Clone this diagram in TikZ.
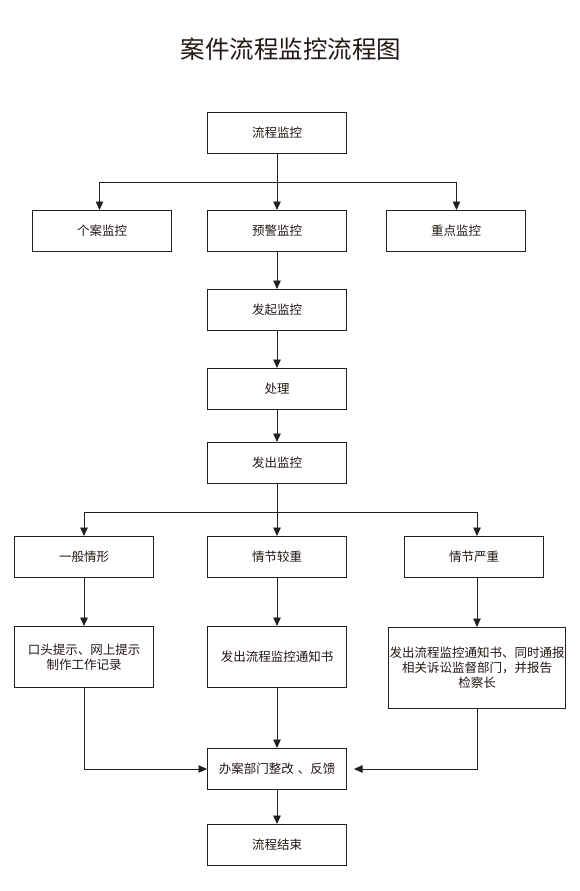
\documentclass[tikz,border=0pt]{standalone}
\usepackage{fontspec}
\newfontfamily\cjk{Noto Sans CJK SC}
\usetikzlibrary{arrows.meta}
\definecolor{lc}{HTML}{231F20}
\definecolor{tc}{HTML}{231815}
\tikzset{
  box/.style={draw=lc, line width=1pt, minimum width=139pt, minimum height=41pt,
    inner sep=0pt, align=center, text=tc, font=\cjk\fontsize{12.5}{15}\selectfont},
  arr/.style={draw=lc, line width=0.9pt, -{Triangle[length=8.5pt,width=7.5pt]}},
  ln/.style={draw=lc, line width=0.9pt}
}
\begin{document}
\begin{tikzpicture}[x=1pt,y=-1pt]
\useasboundingbox[fill=white] (0,0) rectangle (580,891);
\node[text=tc, font=\cjk\fontsize{24.5}{26}\selectfont] (title) at (291,49) {案件流程监控流程图};

\node[box] (A) at (277,133) {流程监控};
\node[box] (B1) at (102,231) {个案监控};
\node[box] (B2) at (277,231) {预警监控};
\node[box] (B3) at (456,231) {重点监控};
\node[box] (C) at (277,310) {发起监控};
\node[box] (D) at (277,389) {处理};
\node[box] (E) at (277,463) {发出监控};
\node[box] (F1) at (84,557) {一般情形};
\node[box] (F2) at (277,557) {情节较重};
\node[box] (F3) at (474,557) {情节严重};
\node[box, minimum height=61pt] (G1) at (84,657) {口头提示、网上提示\\制作工作记录};
\node[box, minimum height=61pt] (G2) at (277,657) {发出流程监控通知书};
\node[box, minimum width=177pt, minimum height=81pt] (G3) at (477,668) {发出流程监控通知书、同时通报\\相关诉讼监督部门，并报告\\检察长};
\node[box] (H) at (277,769) {办案部门整改\hspace{4pt}、反馈};
\node[box] (I) at (277,845) {流程结束};

\coordinate (j1) at (277,182.5);
\coordinate (j2) at (277,512.5);

\draw[arr] (A) -- (B2);
\draw[arr] (j1) -| ([xshift=-2.5pt]B1.north);
\draw[arr] (j1) -| ([xshift=0.5pt]B3.north);
\draw[arr] (B2) -- (C);
\draw[arr] (C) -- (D);
\draw[arr] (D) -- (E);
\draw[arr] (E) -- (F2);
\draw[arr] (j2) -| (F1.north);
\draw[arr] (j2) -| (F3.north -| G3.north);
\draw[arr] (F1) -- (G1);
\draw[arr] (F2) -- (G2);
\draw[arr] (F3.south -| G3.north) -- (G3.north);
\draw[arr] (G1.south) |- (H.west);
\draw[arr, shorten >=7pt] (G3.south) |- (H.east);
\draw[arr] (G2) -- (H);
\draw[arr] (H) -- (I);
\end{tikzpicture}
\end{document}
